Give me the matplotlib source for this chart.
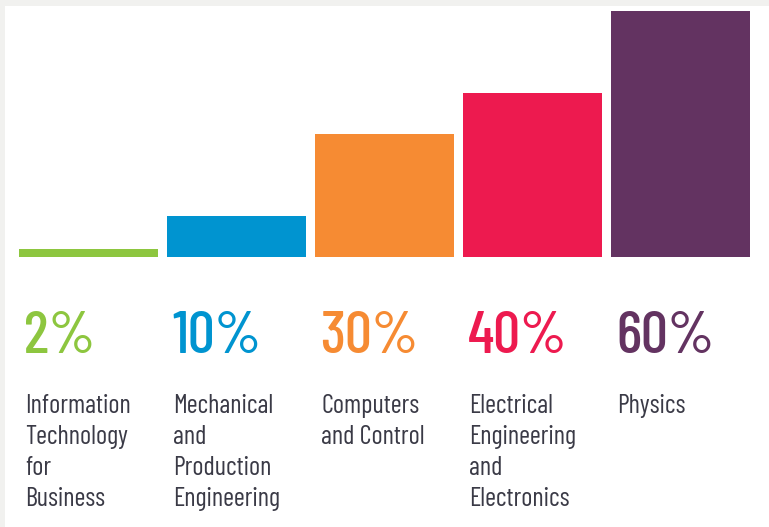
import matplotlib
matplotlib.use("Agg")
import matplotlib.pyplot as plt
from matplotlib.patches import Rectangle

# Data
categories = [
    "Information\nTechnology\nfor\nBusiness",
    "Mechanical\nand\nProduction\nEngineering",
    "Computers\nand Control",
    "Electrical\nEngineering\nand\nElectronics",
    "Physics",
]
shares = [2, 10, 30, 40, 60]
pct_labels = ["2%", "10%", "30%", "40%", "60%"]
colors = ["#8dc63f", "#0094d0", "#f68b33", "#ed1a4f", "#633361"]

W, H = 769, 527
fig = plt.figure(figsize=(W / 100, H / 100), dpi=100, facecolor="#f1f1ef")
# white panel with thin grey strip on top and left
fig.patches.append(Rectangle((5 / W, 0), 1, (H - 6) / H, transform=fig.transFigure,
                             facecolor="white", edgecolor="none", zorder=-1))

pct_font = ["Barlow Condensed", "DejaVu Sans"]
lab_font = ["Barlow Condensed", "DejaVu Sans"]
text_color = "#3a3a46"

ax = fig.add_axes([15 / W, (H - 257) / H, 739.5 / W, 246 / H])
ax.patch.set_alpha(0)
bar_w = 0.94
x = range(len(shares))
ax.bar(x, shares, width=bar_w, color=colors, zorder=2)
ax.set_xlim(-0.5, len(shares) - 0.5)
ax.set_ylim(0, 60)
ax.axis("off")

for i, (pct, cat, col) in enumerate(zip(pct_labels, categories, colors)):
    left = i - bar_w / 2
    ax.annotate(pct, (left, 0), xytext=(5, -96), textcoords="offset pixels",
                ha="left", va="baseline", fontsize=43, fontweight=500, color=col,
                family=pct_font, annotation_clip=False)
    for j, line in enumerate(cat.split("\n")):
        ax.annotate(line, (left, 0), xytext=(6, -156 - 31 * j), textcoords="offset pixels",
                    ha="left", va="baseline", fontsize=19, color=text_color,
                    family=lab_font, annotation_clip=False)

fig.savefig("out.png", dpi=100, facecolor=fig.get_facecolor())
